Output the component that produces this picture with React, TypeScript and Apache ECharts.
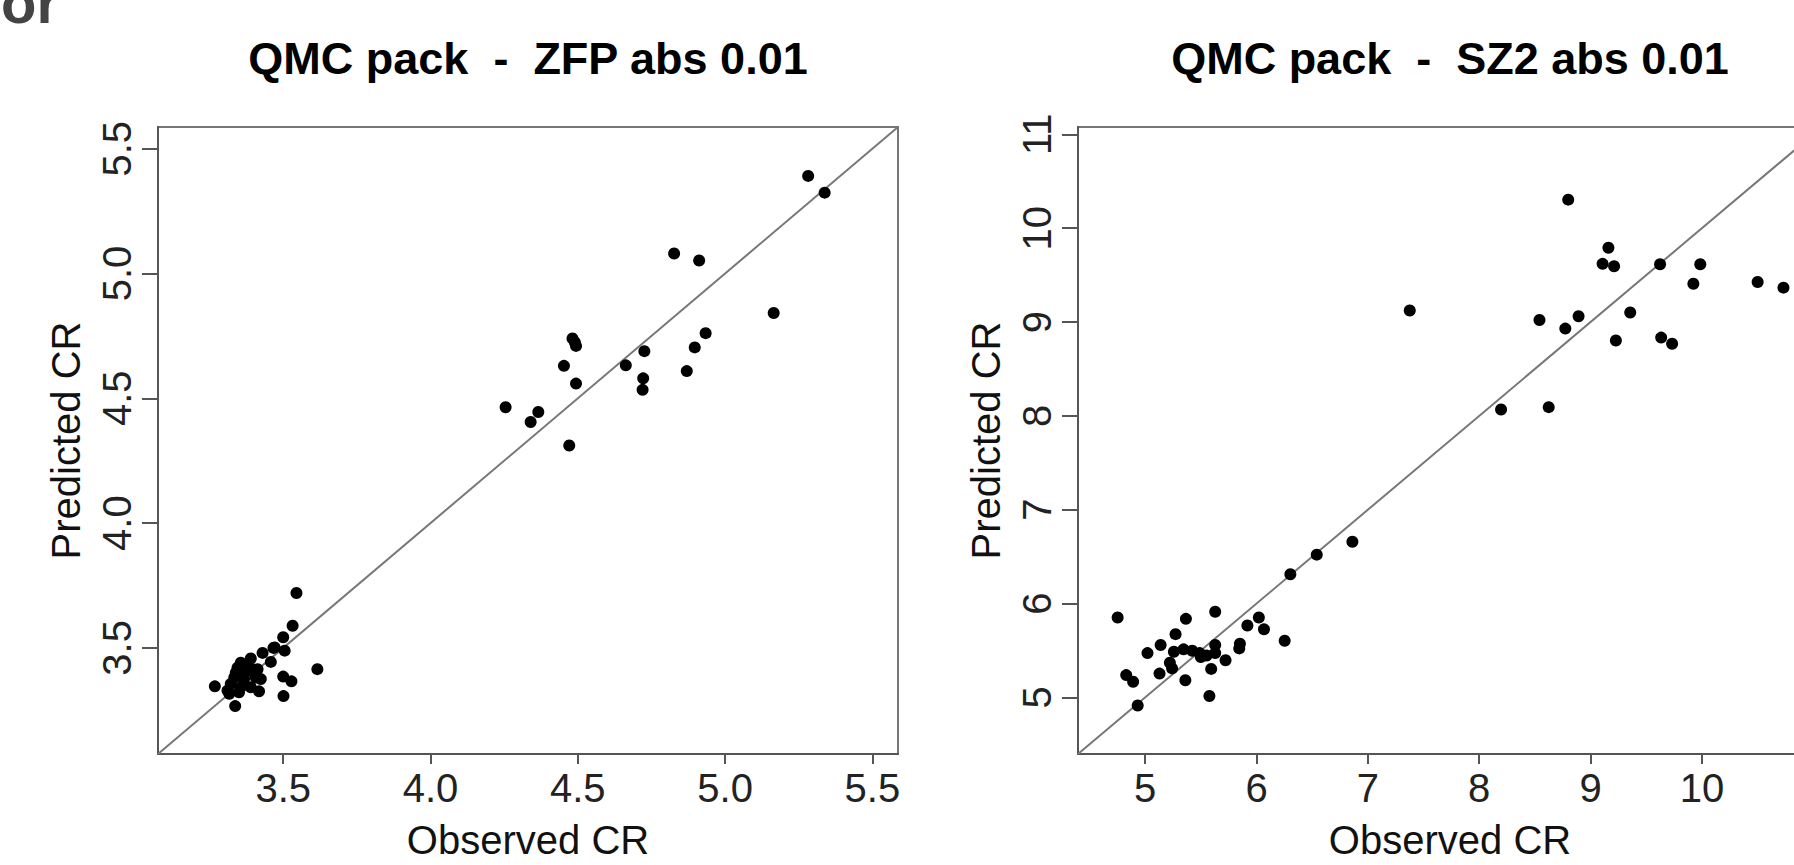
import React, { useEffect, useRef } from 'react';
import * as echarts from 'echarts';

// ---- Data ----
const zfpObserved = [
  5.282, 5.338, 4.827, 4.912, 5.165, 4.934, 4.897, 4.870, 4.726, 4.722, 4.720, 4.663,
  4.482, 4.490, 4.494, 4.453, 4.494, 4.255, 4.366, 4.340, 4.471,
  3.545, 3.532, 3.500, 3.505, 3.467, 3.430, 3.458, 3.616, 3.500, 3.528, 3.501, 3.337,
  3.268, 3.418, 3.356, 3.390, 3.345, 3.379, 3.413, 3.334, 3.367, 3.407, 3.322, 3.356,
  3.390, 3.311, 3.350, 3.317, 3.424, 3.339, 3.362, 3.384, 3.471,
];
const zfpPredicted = [
  5.391, 5.324, 5.080, 5.052, 4.842, 4.761, 4.704, 4.609, 4.689, 4.580, 4.534, 4.632,
  4.740, 4.725, 4.710, 4.630, 4.559, 4.464, 4.445, 4.405, 4.311,
  3.720, 3.589, 3.543, 3.489, 3.500, 3.480, 3.444, 3.415, 3.385, 3.366, 3.307, 3.267,
  3.346, 3.326, 3.441, 3.458, 3.421, 3.408, 3.415, 3.381, 3.375, 3.381, 3.356, 3.342,
  3.342, 3.329, 3.322, 3.316, 3.375, 3.401, 3.401, 3.428, 3.502,
];
const sz2Observed = [
  8.799, 9.160, 9.108, 9.211, 9.624, 9.985, 9.923, 10.500, 10.732, 7.376, 8.541, 8.892,
  8.773, 9.356, 9.227, 9.634, 9.732, 8.196, 8.624, 6.861, 6.541, 6.304, 4.753, 5.629,
  5.366, 6.021, 5.918, 6.067, 6.253, 5.273, 5.139, 5.021, 5.851, 5.845, 5.629, 5.258,
  5.345, 5.423, 5.490, 5.552, 5.629, 5.722, 5.593, 5.222, 5.242, 5.129, 4.830, 4.892,
  5.361, 5.577, 4.933, 5.500,
];
const sz2Predicted = [
  10.304, 9.792, 9.620, 9.594, 9.615, 9.615, 9.407, 9.427, 9.366, 9.123, 9.021, 9.062,
  8.930, 9.102, 8.803, 8.834, 8.768, 8.068, 8.093, 6.658, 6.521, 6.313, 5.852, 5.913,
  5.837, 5.852, 5.766, 5.725, 5.603, 5.674, 5.558, 5.472, 5.573, 5.522, 5.558, 5.487,
  5.512, 5.497, 5.472, 5.446, 5.472, 5.396, 5.304, 5.370, 5.309, 5.254, 5.238, 5.167,
  5.183, 5.015, 4.914, 5.431,
];
const zfpLimits = [3.075, 5.587];
const sz2Limits = [4.397, 11.078];
const zfpTicks = [3.5, 4.0, 4.5, 5.0, 5.5];
const sz2Ticks = [5, 6, 7, 8, 9, 10, 11];
const titles = ['QMC pack  -  ZFP abs 0.01', 'QMC pack  -  SZ2 abs 0.01'];
const xName = 'Observed CR';
const yName = 'Predicted CR';
const cornerText = 'or';

export default function App() {
  const ref = useRef<HTMLDivElement>(null);
  useEffect(() => {
    const chart = echarts.init(ref.current as HTMLDivElement, null, { renderer: 'svg' });
    const font = 'Liberation Sans, Arial, Helvetica, sans-serif';
    const axisColor = '#555';

    const mkX = (idx: number, lim: number[], ticks: number[], fmt: (v: number) => string) => ({
      type: 'value', gridIndex: idx, min: lim[0], max: lim[1],
      name: xName, nameLocation: 'middle', nameGap: 66,
      nameTextStyle: { fontSize: 40, color: '#111', fontFamily: font },
      axisLine: { show: true, onZero: false, lineStyle: { color: axisColor, width: 2 } },
      axisTick: { show: true, length: 10, customValues: ticks, lineStyle: { color: axisColor, width: 2 } },
      axisLabel: { customValues: ticks, formatter: fmt, fontSize: 40, color: '#222', margin: 14, fontFamily: font },
      splitLine: { show: false },
    });
    const mkY = (idx: number, lim: number[], ticks: number[], fmt: (v: number) => string) => ({
      type: 'value', gridIndex: idx, min: lim[0], max: lim[1],
      name: yName, nameLocation: 'middle', nameGap: 72, nameRotate: 90,
      nameTextStyle: { fontSize: 40, color: '#111', fontFamily: font },
      axisLine: { show: true, onZero: false, lineStyle: { color: axisColor, width: 2 } },
      axisTick: { show: true, length: 16, customValues: ticks, lineStyle: { color: axisColor, width: 2 } },
      axisLabel: { customValues: ticks, formatter: fmt, fontSize: 40, color: '#222', margin: 21, rotate: 90, fontFamily: font },
      splitLine: { show: false },
    });
    const f1 = (v: number) => v.toFixed(1);
    const f0 = (v: number) => String(Math.round(v));

    const zip = (a: number[], b: number[]) => a.map((v, i) => [v, b[i]]);

    chart.setOption({
      animation: false,
      backgroundColor: '#fff',
      grid: [
        { left: 158, top: 127, width: 740, height: 638, show: true, borderColor: '#777', borderWidth: 2 },
        { left: 1078, top: 127, width: 744, height: 638, show: true, borderColor: '#777', borderWidth: 2 },
      ],
      xAxis: [mkX(0, zfpLimits, zfpTicks, f1), mkX(1, sz2Limits, sz2Ticks, f0)],
      yAxis: [mkY(0, zfpLimits, zfpTicks, f1), mkY(1, sz2Limits, sz2Ticks, f0)],
      series: [
        {
          type: 'line', xAxisIndex: 0, yAxisIndex: 0, symbol: 'none', silent: true, z: 1,
          data: [[zfpLimits[0], zfpLimits[0]], [zfpLimits[1], zfpLimits[1]]],
          lineStyle: { color: '#777', width: 2 },
        },
        {
          type: 'line', xAxisIndex: 1, yAxisIndex: 1, symbol: 'none', silent: true, z: 1,
          data: [[sz2Limits[0], sz2Limits[0]], [sz2Limits[1], sz2Limits[1]]],
          lineStyle: { color: '#777', width: 2 },
        },
        {
          type: 'scatter', xAxisIndex: 0, yAxisIndex: 0, symbolSize: 12, z: 2,
          data: zip(zfpObserved, zfpPredicted), itemStyle: { color: '#000', opacity: 1 },
        },
        {
          type: 'scatter', xAxisIndex: 1, yAxisIndex: 1, symbolSize: 12, z: 2,
          data: zip(sz2Observed, sz2Predicted), itemStyle: { color: '#000', opacity: 1 },
        },
      ],
      graphic: [
        {
          type: 'text', x: 528, y: 58,
          style: { text: titles[0], font: `bold 45px ${font}`, fill: '#000', align: 'center', verticalAlign: 'middle' },
        },
        {
          type: 'text', x: 1450, y: 58,
          style: { text: titles[1], font: `bold 45px ${font}`, fill: '#000', align: 'center', verticalAlign: 'middle' },
        },
        {
          type: 'text', x: 1, y: 2,
          style: { text: cornerText, font: `bold 58px ${font}`, fill: '#444', align: 'left', verticalAlign: 'middle' },
        },
      ],
    });
    return () => chart.dispose();
  }, []);
  return (
    <div style={{ position: 'absolute', left: 0, top: 0, width: 1794, height: 865, overflow: 'hidden', background: '#fff' }}>
      <div ref={ref} style={{ width: 1840, height: 865 }} />
    </div>
  );
}
